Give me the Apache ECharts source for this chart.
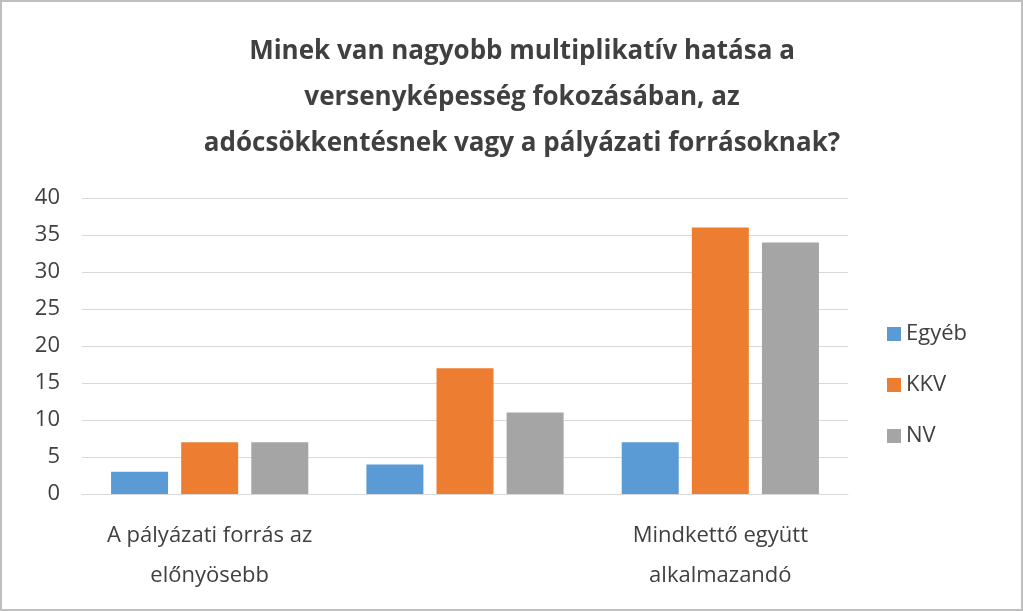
<!DOCTYPE html><html><head><meta charset="utf-8">
<script src="https://cdn.jsdelivr.net/npm/echarts@6/dist/echarts.min.js"></script>
<style>body{margin:0}#c{width:1023px;height:611px;box-sizing:border-box;border:2px solid #bfbfbf}</style></head><body><div id="c"></div><script>
const categories=['A pályázati forrás az\nelőnyösebb','Adócsökkentés a\npreferáltabb','Mindkettő együtt\nalkalmazandó'];
const seriesNames=['Egyéb','KKV','NV'];
const egyeb=[3,4,7];
const kkv=[7,17,36];
const nv=[7,11,34];
const colors=['#5B9BD5','#ED7D31','#A5A5A5'];
const ch=echarts.init(document.getElementById('c'));
const f="'Open Sans', 'Liberation Sans', sans-serif";
ch.setOption({
title:{text:'Minek van nagyobb multiplikatív hatása a\nversenyképesség fokozásában, az\nadócsökkentésnek vagy a pályázati forrásoknak?',left:515,textAlign:'center',top:22,textStyle:{fontFamily:f,fontSize:26,fontWeight:'bold',color:'#404040',lineHeight:46}},
legend:{orient:'vertical',left:880,top:316,itemGap:29,itemWidth:14,itemHeight:14,icon:'rect',textStyle:{fontFamily:f,fontSize:22,color:'#404040'}},
grid:{left:80,right:173,top:196,bottom:115},
xAxis:{type:'category',data:categories,axisTick:{show:false},axisLine:{lineStyle:{color:'#d9d9d9'}},axisLabel:{fontFamily:f,fontSize:22,color:'#404040',lineHeight:40,margin:22}},
yAxis:{type:'value',min:0,max:40,interval:5,splitLine:{lineStyle:{color:'#d9d9d9'}},axisLabel:{fontFamily:f,fontSize:22,color:'#404040',margin:22}},
series:[egyeb,kkv,nv].map((d,i)=>({name:seriesNames[i],type:'bar',data:d,barWidth:57,barGap:'23%',itemStyle:{color:colors[i]}}))
});
</script></body></html>
